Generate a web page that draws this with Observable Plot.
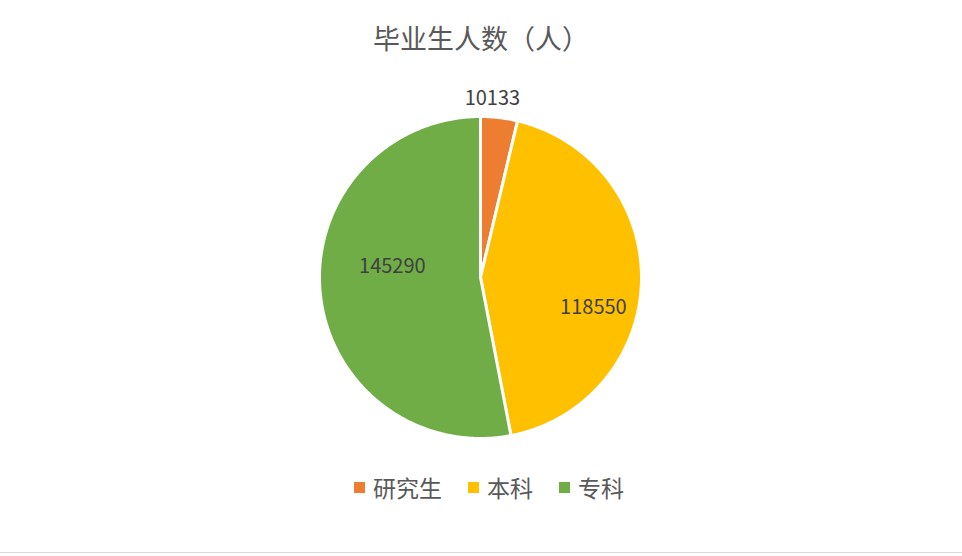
<!DOCTYPE html>
<html><head><meta charset="utf-8">
<script src="https://cdn.jsdelivr.net/npm/d3@7"></script>
<script src="https://cdn.jsdelivr.net/npm/@observablehq/plot@0.6"></script>
<style>
body{margin:0;background:#fff;font-family:"Noto Sans CJK SC","Noto Sans",sans-serif;}
#wrap{position:relative;width:962px;height:556px;overflow:hidden;background:#fff}
#title{position:absolute;top:19px;left:0;width:962px;text-align:center;font-size:27px;color:#595959;line-height:38px}
#chart{position:absolute;top:70px;left:0}
#legend{position:absolute;top:471px;left:8px;width:962px;display:flex;justify-content:center;align-items:center;font-size:23px;color:#595959;line-height:32px}
.item{display:flex;align-items:center;margin:0 13px}
.sw{width:11px;height:11px;margin-right:8px}
#border{position:absolute;left:0;top:552px;width:962px;height:1px;background:#d9d9d9}
</style>
</head><body>
<div id="wrap">
  <div id="title">毕业生人数（人）</div>
  <div id="chart"></div>
  <div id="legend"></div>
  <div id="border"></div>
</div>
<script>
const title = "毕业生人数（人）";
const categories = ["研究生", "本科", "专科"];
const values = [10133, 118550, 145290];
const colors = ["#ED7D31", "#FFC000", "#70AD47"];

const rows = categories.map((c, i) => ({category: c, value: values[i]}));
const arcs = d3.pie().sort(null).value(d => d.value)(rows);

function ring(a0, a1) {
  const pts = [[0, 0]];
  const n = Math.max(2, Math.ceil((a1 - a0) / (Math.PI / 360)));
  for (let k = 0; k <= n; k++) {
    const a = a0 + (a1 - a0) * k / n;
    pts.push([Math.sin(a), Math.cos(a)]);
  }
  pts.push([0, 0]);
  return pts;
}

const features = arcs.map(a => ({
  type: "Feature",
  properties: {category: a.data.category, value: a.data.value},
  geometry: {type: "Polygon", coordinates: [ring(a.startAngle, a.endAngle)]}
}));

const R = 161;
const labelRadius = [1.12, 0.72, 0.55];
const labelShift = [[-9, 0], [-3, 28], [0, -19]];
const labels = arcs.map((a, i) => {
  const m = (a.startAngle + a.endAngle) / 2;
  return {
    text: String(a.data.value),
    x: Math.sin(m) * labelRadius[i] + labelShift[i][0] / R,
    y: Math.cos(m) * labelRadius[i] - labelShift[i][1] / R
  };
});

const chart = Plot.plot({
  width: 962,
  height: 420,
  marginTop: 13.8,
  marginBottom: 19.8,
  marginLeft: 0,
  marginRight: 2,
  style: {background: "transparent", fontFamily: "'Noto Sans CJK SC', sans-serif", overflow: "visible"},
  projection: {
    type: "reflect-y",
    domain: {type: "MultiPoint", coordinates: [[-1.2, -1.2], [1.2, 1.2]]}
  },
  color: {domain: categories, range: colors},
  marks: [
    Plot.geo(features, {fill: d => d.properties.category, stroke: "white", strokeWidth: 3, strokeLinejoin: "round"}),
    Plot.text(labels, {x: "x", y: "y", text: "text", fill: "#404040", fontSize: 20})
  ]
});
document.getElementById("chart").appendChild(chart);

const legend = document.getElementById("legend");
categories.forEach((c, i) => {
  const item = document.createElement("div");
  item.className = "item";
  const sw = document.createElement("span");
  sw.className = "sw";
  sw.style.background = colors[i];
  const t = document.createElement("span");
  t.textContent = c;
  item.appendChild(sw);
  item.appendChild(t);
  legend.appendChild(item);
});
document.getElementById("title").textContent = title;
</script>
</body></html>
